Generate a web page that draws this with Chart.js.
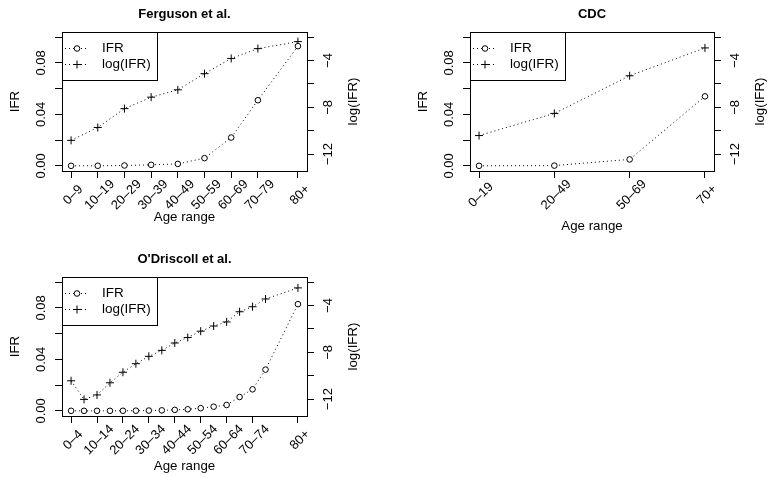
<!DOCTYPE html>
<html>
<head>
<meta charset="utf-8">
<script src="https://cdn.jsdelivr.net/npm/chart.js@4.4.0/dist/chart.umd.min.js"></script>
<style>
  body { margin: 0; background: #fff; }
  #wrap { position: relative; width: 770px; height: 478px; }
  canvas { position: absolute; left: 0; top: 0; }
</style>
</head>
<body>
<div id="wrap">
  <canvas id="chartFerguson" width="770" height="478"></canvas>
  <canvas id="chartCdc" width="770" height="478"></canvas>
  <canvas id="chartDriscoll" width="770" height="478"></canvas>
</div>
<script>
var fuente = '"Liberation Sans", Arial, Helvetica, sans-serif'

// Ferguson et al.
var fergEdades = ['0–9', '10–19', '20–29', '30–39', '40–49', '50–59', '60–69', '70–79', '80+']
var fergX = [5, 15, 25, 35, 45, 55, 65, 75, 90]
var fergIfr = [0.00002, 0.00006, 0.0003, 0.0008, 0.0015, 0.006, 0.022, 0.051, 0.093]
var fergLog = [-10.82, -9.72, -8.11, -7.13, -6.50, -5.12, -3.82, -2.98, -2.38]

// CDC
var cdcEdades = ['0–19', '20–49', '50–69', '70+']
var cdcX = [10, 35, 60, 85]
var cdcIfr = [0.00003, 0.0002, 0.005, 0.054]
var cdcLog = [-10.41, -8.52, -5.30, -2.92]

// O'Driscoll et al.
var odEdades = ['0–4', '5–9', '10–14', '15–19', '20–24', '25–29', '30–34', '35–39', '40–44',
  '45–49', '50–54', '55–59', '60–64', '65–69', '70–74', '75–79', '80+']
var odX = [2.5, 7.5, 12.5, 17.5, 22.5, 27.5, 32.5, 37.5, 42.5, 47.5, 52.5, 57.5, 62.5, 67.5, 72.5, 77.5, 90]
var odIfr = [0.00003, 0.000006, 0.000009, 0.000025, 0.00006, 0.00013, 0.00024, 0.0004, 0.00075,
  0.00121, 0.00207, 0.00323, 0.00456, 0.01075, 0.01674, 0.03203, 0.08292]
var odLog = [-10.43, -12.02, -11.64, -10.60, -9.70, -8.97, -8.34, -7.83, -7.20,
  -6.73, -6.19, -5.75, -5.40, -4.53, -4.10, -3.44, -2.49]
// only every other band gets a tick
var odTickX = [2.5, 12.5, 22.5, 32.5, 42.5, 52.5, 62.5, 72.5, 90]
var odTickLab = ['0–4', '10–14', '20–24', '30–34', '40–44', '50–54', '60–64', '70–74', '80+']

// axes
var ifrTicks = [0, 0.02, 0.04, 0.06, 0.08, 0.10]
var ifrTickLab = ['0.00', '', '0.04', '', '0.08', '']
var logTicks = [-12, -10, -8, -6, -4, -2]
var logTickLab = ['−12', '', '−8', '', '−4', '']
var ifrRange = [-0.004, 0.104]
var logRange = [-13.44, -1.56]

var W = 770, H = 478

function texto(c, s, x, y, ang) {
    c.save()
    c.translate(x, y)
    c.rotate(ang)
    c.fillText(s, 0, 0)
    c.restore()
}

function puntos(xs, ys) {
    return xs.map(function (v, i) { return {x: v, y: ys[i]} })
}

function eje(pos, min, max, valores, fit) {
    return {
        type: 'linear',
        position: pos,
        min: min,
        max: max,
        afterBuildTicks: function (s) {
            s.ticks = valores.map(function (v) { return {value: v} })
        },
        afterFit: fit,
        ticks: {display: false},
        grid: {drawOnChartArea: false, drawTicks: true, tickLength: 7, tickColor: '#000', tickWidth: 1},
        border: {display: true, color: '#000', width: 1}
    }
}

function panel(id, p) {
    var b = p.box
    var etiquetas = {
        id: 'etiquetas',
        afterDraw: function (chart) {
            var c = chart.ctx
            var a = chart.chartArea
            var sx = chart.scales.x, sy = chart.scales.y, sy2 = chart.scales.y2
            var cx = (a.left + a.right) / 2, cy = (a.top + a.bottom) / 2
            c.save()
            c.fillStyle = '#000'
            c.strokeStyle = '#000'
            c.lineWidth = 1
            c.setLineDash([])
            c.strokeRect(Math.round(a.left) + 0.5, Math.round(a.top) + 0.5,
                Math.round(a.right - a.left), Math.round(a.bottom - a.top))

            c.font = 'bold 13px ' + fuente
            c.textAlign = 'center'
            c.textBaseline = 'alphabetic'
            c.fillText(p.titulo, cx, a.top - 14)

            c.textBaseline = 'middle'
            c.font = '13px ' + fuente
            p.tickX.forEach(function (v, i) {
                texto(c, p.tickLab[i], sx.getPixelForValue(v) + 2, a.bottom + 24, -Math.PI / 4)
            })
            ifrTicks.forEach(function (v, i) {
                if (ifrTickLab[i]) texto(c, ifrTickLab[i], a.left - 20.5, sy.getPixelForValue(v), -Math.PI / 2)
            })
            logTicks.forEach(function (v, i) {
                if (logTickLab[i]) texto(c, logTickLab[i], a.right + 21.5, sy2.getPixelForValue(v), -Math.PI / 2)
            })

            c.font = '13.3px ' + fuente
            texto(c, 'IFR', a.left - 47, cy, -Math.PI / 2)
            texto(c, 'log(IFR)', a.right + 46.5, cy, -Math.PI / 2)
            c.fillText('Age range', cx, p.xlabY)

            // legend
            var lx = Math.round(a.left), ly = Math.round(a.top)
            c.strokeRect(lx + 0.5, ly + 0.5, 95, 48)
            var filas = [ly + 16.5, ly + 32.5]
            c.font = '13.5px ' + fuente
            c.textAlign = 'left'
            filas.forEach(function (y, i) {
                c.setLineDash([1, 3])
                c.beginPath()
                c.moveTo(lx + 3, y)
                c.lineTo(lx + 26, y)
                c.stroke()
                c.setLineDash([])
                c.beginPath()
                if (i == 0) {
                    c.fillStyle = '#fff'
                    c.arc(lx + 15, y, 2.8, 0, Math.PI * 2)
                    c.fill()
                    c.stroke()
                    c.fillStyle = '#000'
                } else {
                    c.moveTo(lx + 11, y); c.lineTo(lx + 19, y)
                    c.moveTo(lx + 15, y - 4); c.lineTo(lx + 15, y + 4)
                    c.stroke()
                }
                c.fillText(i == 0 ? 'IFR' : 'log(IFR)', lx + 40, y)
            })
            c.restore()
        }
    }

    return new Chart(document.getElementById(id), {
        type: 'line',
        data: {
            datasets: [{
                label: 'IFR',
                data: puntos(p.x, p.ifr),
                yAxisID: 'y',
                borderColor: '#000',
                borderWidth: 1,
                borderDash: [1, 3],
                pointStyle: 'circle',
                pointRadius: 2.8,
                pointBorderWidth: 1,
                pointBorderColor: '#000',
                pointBackgroundColor: '#fff',
                tension: 0
            }, {
                label: 'log(IFR)',
                data: puntos(p.x, p.log),
                yAxisID: 'y2',
                borderColor: '#000',
                borderWidth: 1,
                borderDash: [1, 3],
                pointStyle: 'cross',
                pointRadius: 4,
                pointBorderWidth: 1,
                pointBorderColor: '#000',
                tension: 0
            }]
        },
        options: {
            responsive: false,
            animation: false,
            events: [],
            layout: {padding: {left: 0, right: 0, top: b.t, bottom: 0}},
            plugins: {legend: {display: false}, tooltip: {enabled: false}, title: {display: false}},
            scales: {
                x: eje('bottom', p.xmin, p.xmax, p.tickX, function (s) { s.height = H - b.b }),
                y: eje('left', ifrRange[0], ifrRange[1], ifrTicks, function (s) { s.width = b.l }),
                y2: eje('right', logRange[0], logRange[1], logTicks, function (s) { s.width = W - b.r })
            }
        },
        plugins: [etiquetas]
    })
}

var chartFerguson = panel('chartFerguson', {
    titulo: 'Ferguson et al.', x: fergX, ifr: fergIfr, log: fergLog,
    tickX: fergX, tickLab: fergEdades, xmin: 1.6, xmax: 93.4,
    box: {l: 62, r: 307, t: 32, b: 171}, xlabY: 217
})
var chartCdc = panel('chartCdc', {
    titulo: 'CDC', x: cdcX, ifr: cdcIfr, log: cdcLog,
    tickX: cdcX, tickLab: cdcEdades, xmin: 7, xmax: 88,
    box: {l: 470, r: 714, t: 32, b: 171}, xlabY: 226
})
var chartDriscoll = panel('chartDriscoll', {
    titulo: "O'Driscoll et al.", x: odX, ifr: odIfr, log: odLog,
    tickX: odTickX, tickLab: odTickLab, xmin: -1, xmax: 93.5,
    box: {l: 62, r: 307, t: 277, b: 416}, xlabY: 466.5
})
</script>
</body>
</html>
